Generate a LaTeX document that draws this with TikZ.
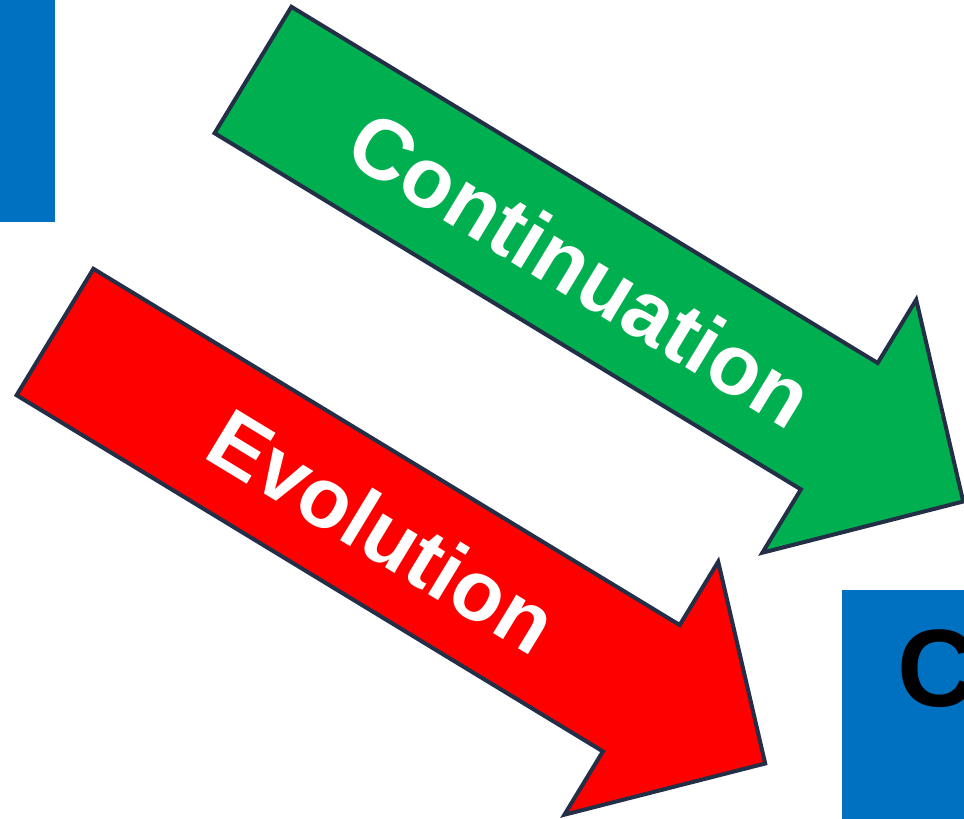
\documentclass[tikz,border=0pt]{standalone}
\usepackage{fontspec}
\setmainfont{Liberation Sans}
\begin{document}
\definecolor{boxblue}{HTML}{0070C0}
\definecolor{goGreen}{HTML}{00B050}
\definecolor{goRed}{HTML}{FF0000}
\definecolor{edge}{RGB}{35,47,70}
\begin{tikzpicture}[x=1pt,y=-1pt,
  bigarrow/.style={draw=edge,line width=4pt,line join=miter},
  arrowlabel/.style={text=white,font=\bfseries\fontsize{85}{100}\selectfont,
    rotate=-31.28,inner sep=0pt,anchor=center},
  boxtext/.style={text=black,font=\bfseries\fontsize{110}{130}\selectfont,
    inner sep=0pt,anchor=base west}]
\useasboundingbox (0,0) rectangle (964,819);
\clip (0,0) rectangle (964,819);

% blue side panels
\fill[boxblue] (-10,-10) rectangle (55,222);
\fill[boxblue] (842,590) rectangle (980,830);
\node[boxtext] (ctext) at (897,706) {C};

% block arrow outline, shared by both arrows
\def\blockarrow{(291.4,6.8) -- (877.7,363.0) -- (916.2,299.7) -- (963.2,501.5)
  -- (762.4,552.7) -- (800.9,489.4) -- (214.6,133.2) -- cycle}

% continuation arrow
\path[bigarrow,fill=goGreen] \blockarrow;
\node[arrowlabel] (cont) at (581,269) {Continuation};

% evolution arrow, same outline moved down-left
\begin{scope}[shift={(-198,262)}]
\path[bigarrow,fill=goRed] \blockarrow;
\node[arrowlabel] (evol) at (581,269) {Evolution};
\end{scope}
\end{tikzpicture}
\end{document}
